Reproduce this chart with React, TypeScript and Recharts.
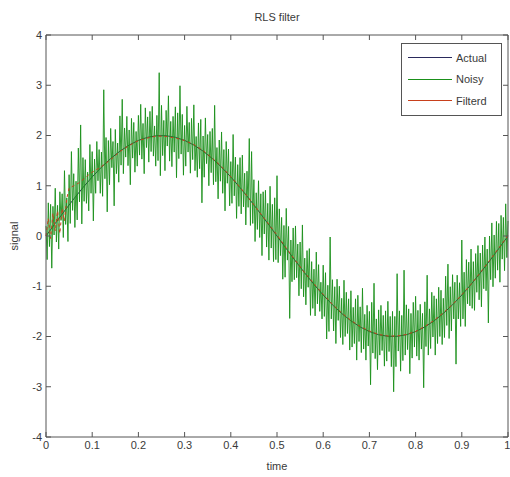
import { LineChart, Line, XAxis, YAxis } from "recharts";

const xTicks = [0, 0.1, 0.2, 0.3, 0.4, 0.5, 0.6, 0.7, 0.8, 0.9, 1];
const yTicks = [-4, -3, -2, -1, 0, 1, 2, 3, 4];

// actual signal, sampled every 0.02
const actualStep = 0.02;
const actualValues = [
    0, 0.2507, 0.4974, 0.7362, 0.9635, 1.1756, 1.3691, 1.541, 1.6887, 1.8097, 1.9021, 1.9646, 1.9961,
    1.9961, 1.9646, 1.9021, 1.8097, 1.6887, 1.541, 1.3691, 1.1756, 0.9635, 0.7362, 0.4974, 0.2507, 0,
    -0.2507, -0.4974, -0.7362, -0.9635, -1.1756, -1.3691, -1.541, -1.6887, -1.8097, -1.9021, -1.9646, -1.9961,
    -1.9961, -1.9646, -1.9021, -1.8097, -1.6887, -1.541, -1.3691, -1.1756, -0.9635, -0.7362, -0.4974, -0.2507, 0,
];

// noisy measurement, sampled every 0.0025
const noisyStep = 0.0025;
const noisyValues = [
    0.2, -0.47, 0.66, -0.21, 0.63, -0.64, 0.59, 0.02, 0.95, -0.12, 0.61, -0.26, 0.88, 0.31, 0.84, -0.03, 1.3, 0.23, 0.76, -0.11,
    1.22, 0.25, 1.68, 0.51, 1.24, 0.17, 1.09, 0.32, 1.75, 0.68, 2.21, 0.24, 1.56, 0.69, 1.52, 0.65, 1.27, 0.5, 1.82, 0.85,
    1.68, 0.3, 1.53, 0.85, 1.88, 1.1, 1.72, 0.85, 1.67, 0.79, 2.91, 1.14, 1.96, 0.48, 1.9, 1.02, 2.14, 1.36, 1.88, 0.6,
    2.12, 1.24, 1.85, 1.07, 2.39, 1.41, 2.72, 1.24, 2.15, 1.57, 2.38, 1.4, 2.11, 1.02, 2.34, 1.55, 2.26, 1.27, 2.08, 1.39,
    2.4, 1.61, 2.62, 1.53, 2.24, 1.24, 2.55, 1.76, 2.37, 1.47, 2.48, 1.68, 2.58, 1.59, 2.19, 1.39, 2.4, 1.5, 3.25, 1.2,
    2.6, 1.6, 2.3, 1.3, 2.5, 1.79, 2.79, 1.49, 2.28, 1.38, 2.38, 1.67, 2.57, 1.16, 2.45, 1.54, 2.99, 1.63, 2.42, 1.21,
    2.2, 1.39, 2.58, 1.67, 2.26, 1.25, 2.34, 1.52, 2.61, 1.3, 1.98, 1.17, 2.25, 1.34, 2.32, 0.66, 1.99, 1.17, 2.35, 1.44,
    2.02, 1.0, 2.08, 1.26, 2.14, 1.02, 2.6, 1.08, 1.76, 0.74, 1.91, 1.09, 2.07, 0.85, 1.72, 0.5, 1.88, 1.05, 1.73, 0.6,
    1.48, 0.65, 2.02, 0.8, 1.57, 0.35, 1.42, 0.59, 1.56, 0.44, 1.61, 0.58, 1.25, 0.22, 1.29, 0.57, 1.94, 0.21, 1.68, 0.25,
    1.12, -0.11, 0.86, 0.13, 1.1, -0.03, 0.84, -0.39, 0.88, 0.04, 0.91, -0.22, 0.65, -0.48, 0.99, -0.24, 0.63, -0.51, 0.76, -0.47,
    1.2, -0.53, 0.54, -0.39, 0.37, -0.86, 0.21, -0.82, 0.55, -0.48, 0.19, -1.64, -0.08, -0.91, 0.16, -0.87, 0.2, -0.83, -0.16, -1.19,
    -0.12, -1.05, 0.22, -1.21, -0.44, -1.37, -0.29, -1.02, -0.25, -1.58, -0.51, -1.44, -0.66, -1.59, -0.32, -1.35, -0.57, -1.5, -0.92, -1.65,
    -0.58, -1.6, -0.73, -2.05, -0.98, -1.9, -0.02, -1.65, -0.87, -1.89, -1.01, -2.14, -0.86, -1.68, -1.0, -2.02, -1.24, -2.16, -0.88, -2.0,
    -1.12, -1.94, -1.25, -2.27, -1.09, -2.21, -1.42, -2.14, -1.25, -2.47, -1.18, -2.1, -1.41, -2.32, -1.04, -2.25, -1.56, -2.47, -1.38, -2.19,
    -1.5, -2.96, -1.32, -2.33, -0.94, -2.44, -1.65, -2.66, -1.47, -2.37, -1.38, -2.28, -1.58, -2.59, -1.49, -2.49, -1.3, -2.3, -1.6, -2.6,
    -1.5, -3.1, -1.6, -2.6, -0.75, -2.29, -1.49, -2.69, -1.58, -2.48, -0.68, -2.37, -1.37, -2.26, -1.45, -2.74, -1.54, -2.43, -1.32, -2.21,
    -1.2, -2.39, -1.48, -2.47, -1.36, -2.25, -1.54, -3.02, -1.31, -2.2, -0.78, -2.37, -1.45, -2.24, -1.12, -2.01, -1.19, -2.37, -1.25, -2.14,
    -1.02, -2.0, -1.08, -2.16, -1.24, -2.02, -0.8, -1.78, -0.56, -2.04, -1.01, -1.89, -0.77, -1.65, -0.92, -2.55, -0.78, -1.65, -0.93, -1.8,
    -0.08, -1.65, -0.72, -1.8, -0.47, -1.35, -0.52, -1.39, -0.26, -1.44, -0.51, -1.48, -0.35, -1.12, -0.19, -1.27, -0.34, -1.41, -0.18, -1.05,
    -0.02, -1.09, -0.26, -1.73, 0.0, -0.87, 0.26, -1.01, 0.02, -0.84, 0.29, -0.68, 0.25, -0.92, 0.41, -0.46, 0.37, -0.69, 0.64, -0.43,
    0.3,
];

// RLS filter output
const filteredT = [
    0, 0.005, 0.01, 0.015, 0.02, 0.025, 0.03, 0.035, 0.04, 0.045, 0.05, 0.06, 0.07, 0.08, 0.09, 0.1,
    0.12, 0.14, 0.16, 0.18, 0.2, 0.22, 0.24, 0.26, 0.28, 0.3, 0.32, 0.34, 0.36, 0.38, 0.4,
    0.42, 0.44, 0.46, 0.48, 0.5, 0.52, 0.54, 0.56, 0.58, 0.6, 0.62, 0.64, 0.66, 0.68, 0.7,
    0.72, 0.74, 0.76, 0.78, 0.8, 0.82, 0.84, 0.86, 0.88, 0.9, 0.92, 0.94, 0.96, 0.98, 1,
];
const filteredValues = [
    0, 0.35, -0.05, 0.45, 0.1, 0.5, 0.05, 0.55, 0.3, 0.75, 0.95, 1.0, 1.05, 1.12, 1.2, 1.27,
    1.38, 1.52, 1.68, 1.8, 1.9, 1.95, 1.99, 1.98, 1.95, 1.9, 1.82, 1.7, 1.55, 1.38, 1.18,
    0.97, 0.74, 0.5, 0.26, 0.02, -0.24, -0.49, -0.73, -0.95, -1.16, -1.36, -1.53, -1.68, -1.8, -1.89,
    -1.96, -1.99, -1.99, -1.96, -1.9, -1.8, -1.68, -1.53, -1.36, -1.17, -0.96, -0.73, -0.49, -0.24, 0.01,
];

const seriesNames = ["Actual", "Noisy", "Filterd"];
const seriesColors = ["#2a2a5c", "#1a901a", "#c8401c"];

const actualData = actualValues.map((v, i) => ({ t: i * actualStep, v }));
const noisyData = noisyValues.map((v, i) => ({ t: i * noisyStep, v }));
const filteredData = filteredValues.map((v, i) => ({ t: filteredT[i], v }));

const FONT = "'Liberation Sans', Arial, sans-serif";
const TXT = "#3a3a3a";
const FRAME = "#555";
const tickStyle = { fontSize: 11, fill: TXT, fontFamily: FONT };
const noLabel = () => <g />;

export default function App() {
    return (
        <div style={{ position: "absolute", left: 0, top: 0, width: 510, height: 477, background: "#fff", fontFamily: FONT }}>
            <LineChart width={510} height={477} margin={{ top: 34, right: 1, bottom: 10, left: 16 }}>
                <XAxis
                    xAxisId="b"
                    type="number"
                    dataKey="t"
                    domain={[0, 1]}
                    ticks={xTicks}
                    height={30}
                    tickSize={-5}
                    tickMargin={9}
                    stroke={FRAME}
                    tick={tickStyle}
                    tickFormatter={(x: number) => String(x)}
                />
                <XAxis
                    xAxisId="t"
                    orientation="top"
                    type="number"
                    dataKey="t"
                    domain={[0, 1]}
                    ticks={xTicks}
                    height={1}
                    tickSize={-5}
                    stroke={FRAME}
                    tick={noLabel}
                />
                <YAxis
                    yAxisId="l"
                    type="number"
                    domain={[-4, 4]}
                    ticks={yTicks}
                    width={30}
                    tickSize={-5}
                    tickMargin={9}
                    stroke={FRAME}
                    tick={tickStyle}
                />
                <YAxis
                    yAxisId="r"
                    orientation="right"
                    type="number"
                    domain={[-4, 4]}
                    ticks={yTicks}
                    width={1}
                    tickSize={-5}
                    stroke={FRAME}
                    tick={noLabel}
                />
                {/* invisible copy so the top and right frame axes get drawn */}
                <Line
                    xAxisId="t"
                    yAxisId="r"
                    data={actualData}
                    dataKey="v"
                    stroke="none"
                    dot={false}
                    isAnimationActive={false}
                />
                <Line
                    xAxisId="b"
                    yAxisId="l"
                    data={actualData}
                    dataKey="v"
                    stroke={seriesColors[0]}
                    strokeWidth={1}
                    dot={false}
                    isAnimationActive={false}
                />
                <Line
                    xAxisId="b"
                    yAxisId="l"
                    data={noisyData}
                    dataKey="v"
                    stroke={seriesColors[1]}
                    strokeWidth={0.9}
                    dot={false}
                    type="linear"
                    isAnimationActive={false}
                />
                <Line
                    xAxisId="b"
                    yAxisId="l"
                    data={filteredData}
                    dataKey="v"
                    stroke={seriesColors[2]}
                    strokeWidth={1}
                    strokeDasharray="3 3"
                    dot={false}
                    isAnimationActive={false}
                />
            </LineChart>

            <div style={{ position: "absolute", left: 177, top: 10, width: 200, textAlign: "center", fontSize: 11, lineHeight: "14px", color: TXT }}>
                RLS filter
            </div>
            <div style={{ position: "absolute", left: 177, top: 459, width: 200, textAlign: "center", fontSize: 11, lineHeight: "14px", color: TXT }}>
                time
            </div>
            <div
                style={{
                    position: "absolute",
                    left: -36,
                    top: 229,
                    width: 100,
                    textAlign: "center",
                    fontSize: 11,
                    lineHeight: "14px",
                    color: TXT,
                    transform: "rotate(-90deg)",
                }}
            >
                signal
            </div>

            <div
                style={{
                    position: "absolute",
                    left: 401,
                    top: 43,
                    width: 99,
                    height: 68,
                    border: `1px solid ${FRAME}`,
                    background: "#fff",
                    paddingTop: 3,
                    boxSizing: "content-box",
                }}
            >
                {seriesNames.map((name, i) => (
                    <div key={name} style={{ display: "flex", alignItems: "center", height: 21.5 }}>
                        <div style={{ marginLeft: 6, width: 44, height: 1, background: seriesColors[i] }} />
                        <span style={{ marginLeft: 4, fontSize: 11, color: TXT }}>{name}</span>
                    </div>
                ))}
            </div>
        </div>
    );
}
